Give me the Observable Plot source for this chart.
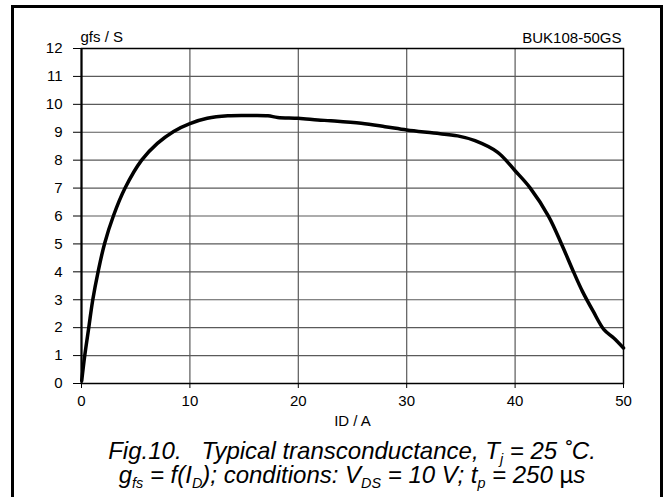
<!DOCTYPE html>
<html>
<head>
<meta charset="utf-8">
<script src="https://cdn.jsdelivr.net/npm/d3@7"></script>
<script src="https://cdn.jsdelivr.net/npm/@observablehq/plot@0.6"></script>
<style>
  html, body { margin: 0; padding: 0; width: 667px; height: 497px; overflow: hidden; background: white; }
  #border { position: absolute; left: 11px; top: 5px; width: 646px; height: 600px; border: 3px solid black; pointer-events: none; }
  #chart { position: absolute; left: 0; top: 0; }
  #caption { position: absolute; left: 37px; top: 439px; width: 630px; text-align: center;
    font-family: "Liberation Sans", Arial, sans-serif; font-style: italic; font-size: 24px; line-height: 24px; color: black; white-space: pre; }
  #caption sub { font-size: 0.6em; vertical-align: -0.35em; line-height: 0; }
  .up { font-style: normal; }
</style>
</head>
<body>
<div id="chart"></div>
<div id="caption">Fig.10.   Typical transconductance, T<sub>j</sub> = 25 ˚C.
g<sub>fs</sub> = f(I<sub>D</sub>); conditions: V<sub>DS</sub> = 10 V; t<sub>p</sub> = 250 <span class="up">µ</span>s</div>
<div id="border"></div>
<script>
const idA = [0.02, 0.3, 0.67, 1.04, 1.53, 2.12, 2.94, 4.02, 5.55, 7.0, 8.5, 10.0, 11.6, 13.5, 15.5, 17.2, 18.1, 20.0, 21.8, 23.0, 25.8, 28.0, 30.0, 32.5, 34.7, 36.3, 38.4, 40.0, 41.4, 43.1, 44.3, 45.4, 46.2, 47.2, 48.2, 49.1, 50.0];
const gfsS = [0.1, 1.0, 2.0, 3.0, 4.0, 5.0, 6.0, 7.0, 8.0, 8.6, 9.03, 9.31, 9.5, 9.59, 9.6, 9.59, 9.53, 9.5, 9.44, 9.41, 9.32, 9.2, 9.08, 8.97, 8.87, 8.70, 8.28, 7.62, 7.0, 5.98, 4.98, 3.99, 3.31, 2.59, 1.93, 1.63, 1.27];
const xTicks = [0, 10, 20, 30, 40, 50];
const yTicks = [0, 1, 2, 3, 4, 5, 6, 7, 8, 9, 10, 11, 12];
const yLabel = "gfs / S";
const xLabel = "ID / A";
const partName = "BUK108-50GS";

const data = idA.map((x, i) => ({x, y: gfsS[i]}));

const chart = Plot.plot({
  width: 667,
  height: 430,
  marginLeft: 81,
  marginRight: 44,
  marginTop: 48,
  marginBottom: 47,
  style: {background: "transparent", fontFamily: "'Liberation Sans', Arial, sans-serif", fontSize: "15px", color: "black"},
  x: {domain: [0, 50], ticks: xTicks, tickSize: 5, tickPadding: 7, label: null},
  y: {domain: [0, 12], ticks: yTicks, tickSize: 8, tickPadding: 11, label: null},
  marks: [
    Plot.ruleX(xTicks.slice(1, -1), {stroke: "#5a5a5a", strokeWidth: 1.2}),
    Plot.ruleY(yTicks.slice(1, -1), {stroke: "#5a5a5a", strokeWidth: 1.2}),
    Plot.frame({stroke: "black", strokeWidth: 1.5}),
    Plot.ruleX([0], {stroke: "black", strokeWidth: 2}),
    Plot.line(data, {x: "x", y: "y", curve: "catmull-rom", stroke: "black", strokeWidth: 3.5}),
    Plot.text([yLabel], {text: d => d, frameAnchor: "top-left", textAnchor: "start", lineAnchor: "bottom", dx: -1, dy: -7, fontSize: 15}),
    Plot.text([partName], {text: d => d, frameAnchor: "top-right", textAnchor: "end", lineAnchor: "bottom", dx: -2, dy: -6, fontSize: 15}),
    Plot.text([xLabel], {text: d => d, frameAnchor: "bottom", lineAnchor: "middle", dy: 38, fontSize: 15})
  ]
});
document.getElementById("chart").appendChild(chart);
</script>
</body>
</html>
